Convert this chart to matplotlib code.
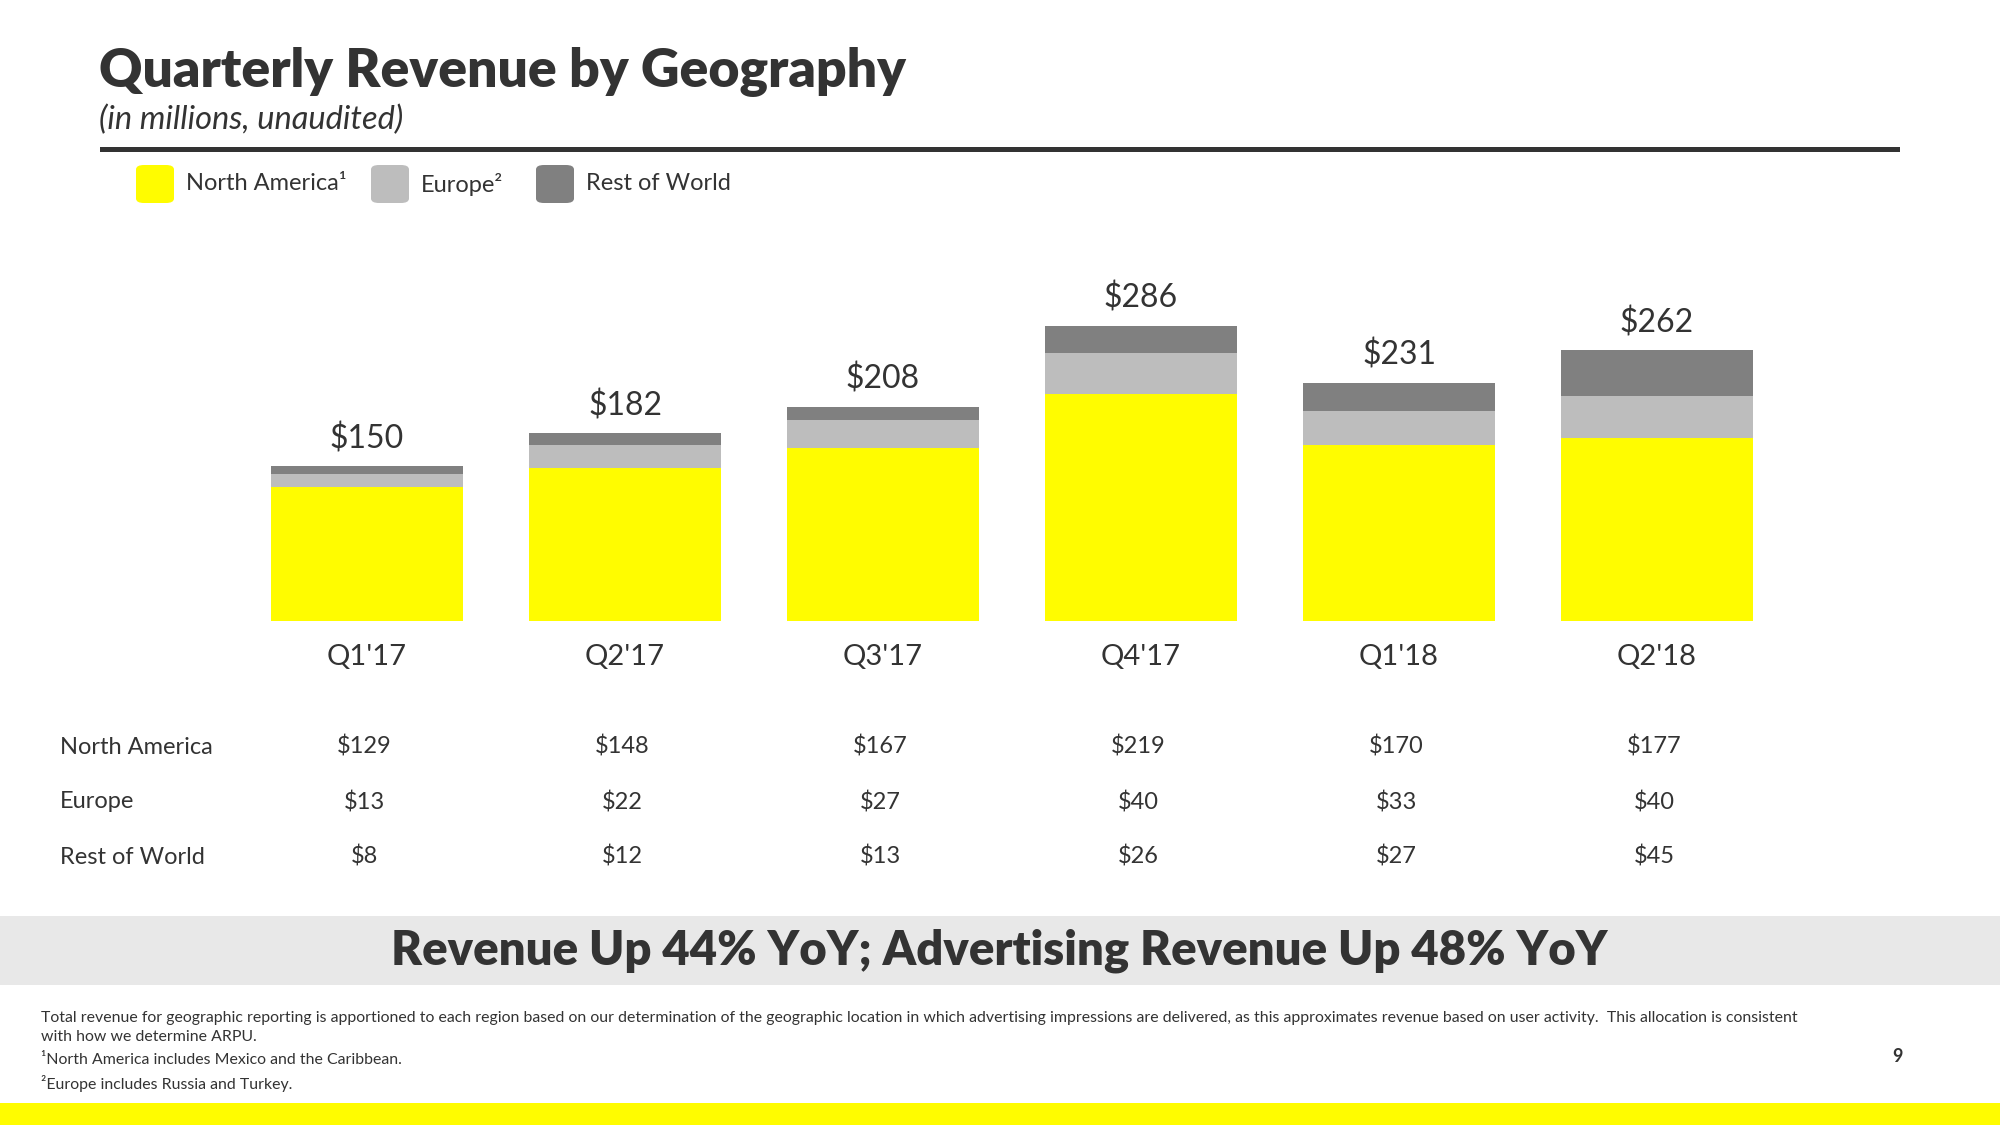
import matplotlib.pyplot as plt
from matplotlib.patches import Rectangle, FancyBboxPatch
from matplotlib.transforms import blended_transform_factory

quarters = ["Q1'17", "Q2'17", "Q3'17", "Q4'17", "Q1'18", "Q2'18"]
north_america = [129, 148, 167, 219, 170, 177]
europe = [13, 22, 27, 40, 33, 40]
rest_of_world = [8, 12, 13, 26, 27, 45]
totals = [150, 182, 208, 286, 231, 262]
series_names = ["North America", "Europe", "Rest of World"]
legend_names = ["North America\u00b9", "Europe\u00b2", "Rest of World"]

YELLOW = '#FFFC00'
LIGHT = '#BDBDBD'
DARK = '#808080'
TEXT = '#333333'
colors = [YELLOW, LIGHT, DARK]

plt.rcParams['font.family'] = ['Lato', 'DejaVu Sans']

W, H = 2000, 1125
fig = plt.figure(figsize=(20, 11.25), dpi=100)

def fx(px):
    return px / W

def fy(py):
    return 1 - py / H

# title block
fig.text(fx(99), fy(72), "Quarterly Revenue by Geography", fontsize=38.5,
         fontweight='heavy', color=TEXT, va='center', ha='left')
fig.text(fx(99), fy(120), "(in millions, unaudited)", fontsize=23.5,
         style='italic', color=TEXT, va='center', ha='left')
fig.add_artist(Rectangle((fx(100), fy(152)), fx(1800), 5 / H,
                         transform=fig.transFigure, color=TEXT, lw=0))

# legend
legend_x = [136, 371, 536]
for x, name, c in zip(legend_x, legend_names, colors):
    fig.add_artist(FancyBboxPatch((fx(x), fy(203)), fx(38), 38 / H,
                                  boxstyle="round,pad=0,rounding_size=0.004",
                                  transform=fig.transFigure, fc=c, ec='none'))
    fig.text(fx(x + 50), fy(184), name, fontsize=17,
             color=TEXT, va='center', ha='left')

# bars
ax = fig.add_axes([fx(238), fy(621), fx(1786 - 238), 421 / H])
ax.set_xlim(-0.5, 5.5)
ax.set_ylim(0, 421 / 1.035)
x = list(range(len(quarters)))
bottom2 = [a + b for a, b in zip(north_america, europe)]
ax.bar(x, north_america, width=0.748, color=YELLOW, lw=0)
ax.bar(x, europe, width=0.748, bottom=north_america, color=LIGHT, lw=0)
ax.bar(x, rest_of_world, width=0.748, bottom=bottom2, color=DARK, lw=0)
for i, t in enumerate(totals):
    ax.annotate(f"${t}", (i, t), xytext=(0, 8), textcoords='offset points',
                ha='center', va='bottom', fontsize=23, color=TEXT)
    ax.text(i, -0.0855, quarters[i], transform=blended_transform_factory(ax.transData, ax.transAxes),
            ha='center', va='center', fontsize=21, color=TEXT)
ax.axis('off')

# data table
trans = blended_transform_factory(ax.transData, fig.transFigure)
row_y = [747, 802, 857]
for name, vals, y in zip(series_names, [north_america, europe, rest_of_world], row_y):
    fig.text(fx(60), fy(y), name, fontsize=17, color=TEXT,
             va='center', ha='left')
    for i, v in enumerate(vals):
        ax.text(i - 0.01, fy(y), f"${v}", transform=trans, fontsize=17,
                color=TEXT, va='center', ha='center')

# banner
fig.add_artist(Rectangle((0, fy(985)), 1, 69 / H, transform=fig.transFigure,
                         color='#E8E8E8', lw=0))
fig.text(0.4995, fy(951), "Revenue Up 44% YoY; Advertising Revenue Up 48% YoY",
         fontsize=34, fontweight='heavy', color=TEXT, ha='center', va='center')

# footnotes
fn = dict(fontsize=11.4, color=TEXT, va='center', ha='left')
fig.text(fx(41), fy(1018), "Total revenue for geographic reporting is apportioned to each region based on our "
         "determination of the geographic location in which advertising impressions are delivered, as this "
         "approximates revenue based on user activity.  This allocation is consistent", **fn)
fig.text(fx(41), fy(1037), "with how we determine ARPU.", **fn)
fig.text(fx(41), fy(1060), "\u00b9North America includes Mexico and the Caribbean.", **fn)
fig.text(fx(41), fy(1084), "\u00b2Europe includes Russia and Turkey.", **fn)
fig.text(fx(1897), fy(1057), "9", fontsize=13, fontweight='bold', color=TEXT, va='center', ha='center')

# bottom strip
fig.add_artist(Rectangle((0, 0), 1, 22 / H, transform=fig.transFigure, color=YELLOW, lw=0))

fig.savefig('out.png', dpi=100)
